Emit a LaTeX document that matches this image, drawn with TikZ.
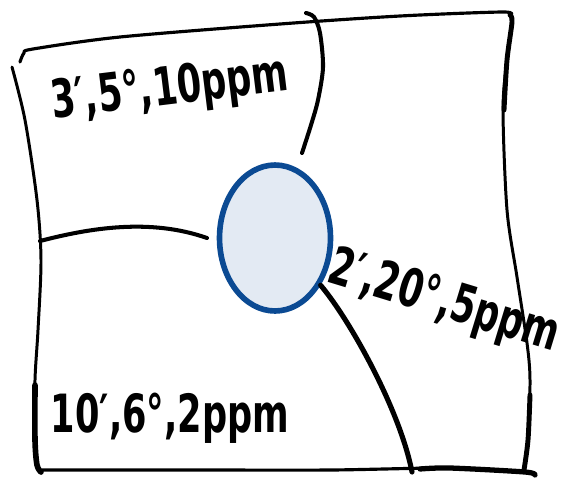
\documentclass[tikz,border=0pt]{standalone}
\usepackage{fontspec}
\usepackage{graphicx}
\setmainfont{DejaVu Sans}
\usetikzlibrary{shapes.geometric}

\definecolor{lakeblue}{HTML}{0B4A93}
\definecolor{lakefill}{HTML}{E3EAF3}

% hand lettering: tall and bold
\newcommand{\scrawl}[1]{\scalebox{1}[1.5]{#1}}

\begin{document}
\begin{tikzpicture}[x=0.02cm, y=-0.02cm,
  ink/.style={line width=#1, line cap=round, line join=round},
  ink/.default=2.2pt,
  zone/.style={font=\bfseries\fontsize{20}{24}\selectfont, inner sep=0pt},
  pond/.style={ellipse, draw=lakeblue, fill=lakefill, line width=3.2pt,
               minimum width=2.22cm, minimum height=2.92cm, inner sep=0pt}
]
\useasboundingbox (0,0) rectangle (567,478);

% outer frame
\draw[ink=1.8pt] plot[smooth] coordinates
  {(20,62) (24,53) (33,49) (120,37) (280,24) (400,16) (502,12) (510,15)};
\draw[ink=1.7pt] plot[smooth] coordinates
  {(510,15) (512,22) (507,60) (503,110) (507,210) (517,277) (527,343) (530,380) (528,440) (524,470)};
\draw[ink=2.8pt] plot[smooth] coordinates
  {(510,15) (512,22) (507,60) (504,110)};
\draw[ink=2.8pt] plot[smooth] coordinates
  {(530,395) (528,440) (524,470)};
\draw[ink=1.7pt] plot[smooth] coordinates
  {(12,67) (25,120) (37,200) (41,260) (38,330) (35,380) (35,440) (37,465) (41,472)};
\draw[ink=3.2pt] plot[smooth] coordinates
  {(35,385) (35,440) (37,465) (41,472)};
\draw[ink=1.8pt] plot[smooth] coordinates
  {(42,470) (200,470) (330,470) (450,468) (525,472) (535,475)};
\draw[ink=3pt] plot[smooth] coordinates
  {(420,469) (450,468) (525,472) (535,475)};

% source
\node[pond] (core) at (275,238) {};

% dividers
\draw[ink=2.3pt] plot[smooth] coordinates
  {(306,13) (314,17) (320,33) (323,67) (318,100) (311,125) (302,153)};
\draw[ink=2.3pt] (40,241) .. controls (90,228) and (150,218) .. (207,238);
\draw[ink=2.9pt] (core.-46) .. controls (350,320) and (400,410) .. (412,472);

% zones
\node[zone, rotate=7] (north) at (170,90) {\scrawl{3′,5°,10ppm}};
\node[zone, rotate=-17] (east) at (444,303) {\scrawl{2′,20°,5ppm}};
\node[zone] (south) at (170,418) {\scrawl{10′,6°,2ppm}};
\end{tikzpicture}
\end{document}
